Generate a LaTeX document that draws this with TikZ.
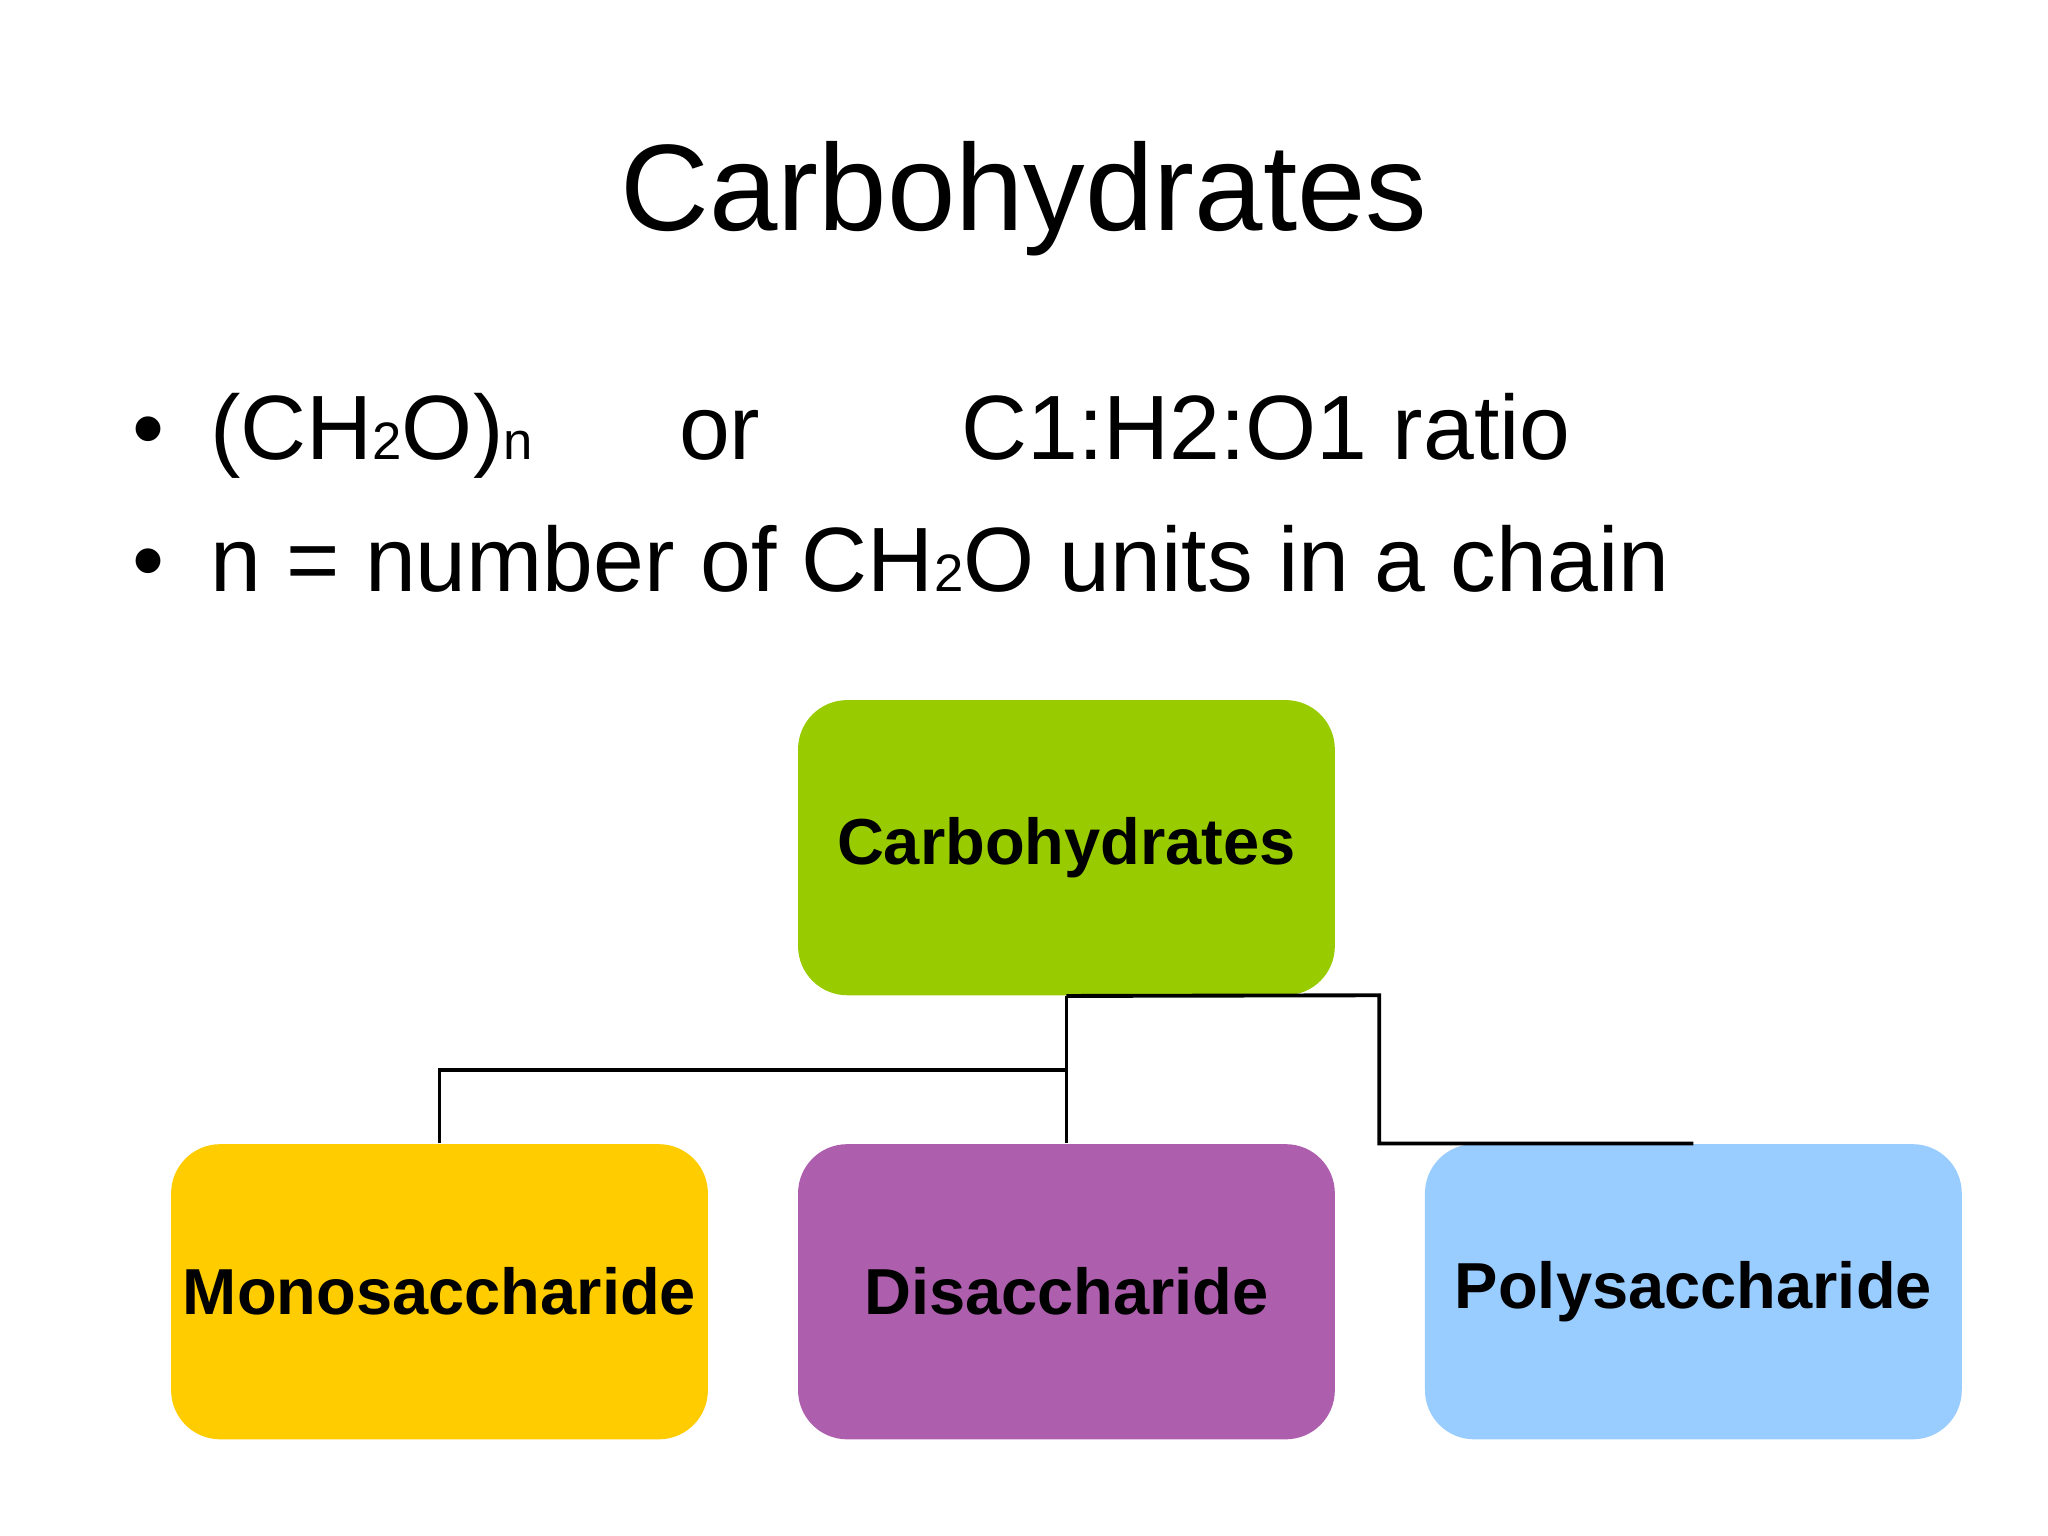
\documentclass[tikz,border=0pt]{standalone}
\usepackage{fontspec}
\setmainfont{Liberation Sans}
\begin{document}
\begin{tikzpicture}[x=0.01306cm,y=-0.01306cm,
  box/.style={draw=none,rounded corners=14pt,minimum width=411*0.01306cm,minimum height=226*0.01306cm,font=\fontsize{18.5}{20}\selectfont\bfseries,inner sep=0pt},
  conn/.style={line width=1.1pt,black}]
\useasboundingbox[fill=white] (0,0) rectangle (1568,1176);
\newcommand{\sm}[1]{{\fontsize{15}{15}\selectfont #1}}
\node[font=\fontsize{35}{40}\selectfont] (title) at (784,152) {Carbohydrates};
\node[font=\fontsize{26}{30}\selectfont,anchor=base west] (b1) at (92,352) {\textbullet\hspace{0.5em}(CH\sm{2}O)\sm{n}\hspace{1.6em}or\hspace{2.2em}C1:H2:O1 ratio};
\node[font=\fontsize{26}{30}\selectfont,anchor=base west] (b2) at (92,453) {\textbullet\hspace{0.5em}n = number of CH\sm{2}O units in a chain};
\node[box,fill={rgb,255:red,153;green,204;blue,0}] (top) at (816.5,649) {Carbohydrates};
\node[box,fill={rgb,255:red,255;green,204;blue,0}] (mono) at (336.5,989) {Monosaccharide};
\node[box,fill={rgb,255:red,173;green,95;blue,173}] (di) at (816.5,989) {Disaccharide};
\node[box,fill={rgb,255:red,153;green,204;blue,255}] (poly) at (1296.5,989) {Polysaccharide};
\coordinate (j) at (817,819);
\coordinate (r) at (1056,762);
\draw[conn] (top.south) -- (di.north);
\draw[conn] (mono.north) |- (j);
\draw[conn] (top.south) -- (r) |- (poly.north);
\end{tikzpicture}
\end{document}
